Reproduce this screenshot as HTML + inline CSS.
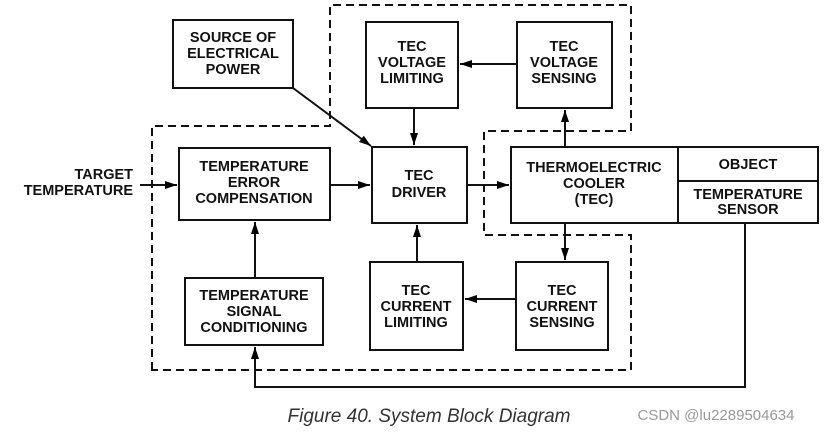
<!DOCTYPE html>
<html><head><meta charset="utf-8"><style>
body{margin:0;background:#fff}
svg text{font-family:"Liberation Sans",sans-serif;font-weight:bold;font-size:14.5px;fill:#111;text-anchor:middle}
</style></head><body>
<svg width="827" height="431" viewBox="0 0 827 431" xmlns="http://www.w3.org/2000/svg">
<defs><marker id="a" markerWidth="12" markerHeight="8" refX="12" refY="4" orient="auto" markerUnits="userSpaceOnUse"><path d="M0,0L12,4L0,8z" fill="#000"/></marker></defs>
<g fill="none" stroke="#111" stroke-width="2" stroke-dasharray="8,5">
<path d="M152,370V126H330V5H631V131H484V235H631V370H152Z"/>
</g>
<g fill="#fff" stroke="#111" stroke-width="2">
<rect x="173" y="20" width="120" height="68"/>
<rect x="366" y="22" width="92" height="86"/>
<rect x="517" y="22" width="95" height="86"/>
<rect x="179" y="148" width="151" height="72"/>
<rect x="372" y="147" width="95" height="76"/>
<rect x="511" y="147" width="167" height="76"/>
<rect x="678" y="147" width="140" height="76"/>
<line x1="678" y1="181" x2="818" y2="181"/>
<rect x="185" y="278" width="138" height="67"/>
<rect x="370" y="262" width="93" height="88"/>
<rect x="516" y="262" width="92" height="88"/>
</g>
<g stroke="#111" stroke-width="2" fill="none" marker-end="url(#a)">
<line x1="140" y1="185" x2="177" y2="185"/>
<line x1="330" y1="185" x2="370" y2="185"/>
<line x1="467" y1="185" x2="509" y2="185"/>
<line x1="293" y1="88" x2="371" y2="146"/>
<line x1="414" y1="108" x2="414" y2="145"/>
<line x1="517" y1="64" x2="460" y2="64"/>
<line x1="565" y1="147" x2="565" y2="110"/>
<line x1="565" y1="223" x2="565" y2="260"/>
<line x1="516" y1="299" x2="465" y2="299"/>
<line x1="417" y1="262" x2="417" y2="225"/>
<line x1="255" y1="278" x2="255" y2="222"/>
<path d="M745,223V387H255V347"/>
</g>
<text x="233" y="42">SOURCE OF</text><text x="233" y="58">ELECTRICAL</text><text x="233" y="74">POWER</text>
<text x="412" y="51">TEC</text><text x="412" y="67">VOLTAGE</text><text x="412" y="83">LIMITING</text>
<text x="564" y="51">TEC</text><text x="564" y="67">VOLTAGE</text><text x="564" y="83">SENSING</text>
<text x="69" y="179" style="text-anchor:end" transform="translate(64,0)">TARGET</text><text x="133" y="195" style="text-anchor:end">TEMPERATURE</text>
<text x="254" y="171">TEMPERATURE</text><text x="254" y="187">ERROR</text><text x="254" y="203">COMPENSATION</text>
<text x="419" y="180">TEC</text><text x="419" y="197">DRIVER</text>
<text x="594" y="172">THERMOELECTRIC</text><text x="594" y="188">COOLER</text><text x="594" y="204">(TEC)</text>
<text x="748" y="169">OBJECT</text>
<text x="748" y="199">TEMPERATURE</text><text x="748" y="214">SENSOR</text>
<text x="254" y="300">TEMPERATURE</text><text x="254" y="316">SIGNAL</text><text x="254" y="332">CONDITIONING</text>
<text x="416" y="295">TEC</text><text x="416" y="311">CURRENT</text><text x="416" y="327">LIMITING</text>
<text x="562" y="295">TEC</text><text x="562" y="311">CURRENT</text><text x="562" y="327">SENSING</text>
<text x="429" y="422" style="font-weight:normal;font-style:italic;font-size:19px;fill:#333">Figure 40. System Block Diagram</text>
<text x="716" y="420" style="font-weight:normal;font-size:15px;fill:#999">CSDN @lu2289504634</text>
</svg>
</body></html>
